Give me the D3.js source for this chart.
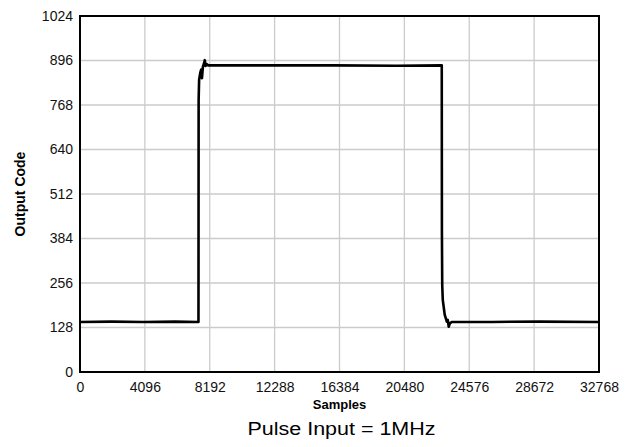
<!DOCTYPE html>
<html>
<head>
<meta charset="utf-8">
<script src="https://cdn.jsdelivr.net/npm/d3@7"></script>
<style>
    body { margin: 0; background: #fff; }
    text { font-family: "Liberation Sans", Arial, sans-serif; }
</style>
</head>
<body>
<div id="chart"></div>
<script>
// Trace: sample index and output code
var samples = [0, 2000, 4000, 6000, 7480, 7490, 7520, 7600, 7650, 7700, 7760, 7820, 7880, 7930, 7990, 8100,
    12000, 16000, 20000, 22840, 22850, 22870, 22905, 23030, 23160, 23220, 23280, 23350, 23470,
    26000, 29000, 32768];
var codes = [144, 145, 144, 145, 144, 780, 840, 862, 870, 845, 878, 886, 897, 880, 886, 882,
    882, 882, 881, 882, 400, 250, 207, 164, 145, 150, 130, 140, 144,
    144, 145, 144];

var xTicks = [0, 4096, 8192, 12288, 16384, 20480, 24576, 28672, 32768];
var yTicks = [0, 128, 256, 384, 512, 640, 768, 896, 1024];

var margin = { top: 16, right: 28, bottom: 75, left: 80 },
    width = 627 - margin.left - margin.right,
    height = 447 - margin.top - margin.bottom;

var x = d3.scaleLinear().domain([0, 32768]).range([0, width]);
var y = d3.scaleLinear().domain([0, 1024]).range([height, 0]);

var svg = d3.select("#chart").append("svg")
    .attr("width", 627)
    .attr("height", 447)
    .append("g")
    .attr("transform", "translate(" + margin.left + "," + margin.top + ")");

// grid
svg.append("g").selectAll("line").data(xTicks.slice(1, -1)).enter().append("line")
    .attr("x1", function (d) { return x(d); }).attr("x2", function (d) { return x(d); })
    .attr("y1", 0).attr("y2", height)
    .attr("stroke", "#cbcbcb").attr("stroke-width", 1.3);
svg.append("g").selectAll("line").data(yTicks.slice(1, -1)).enter().append("line")
    .attr("y1", function (d) { return y(d); }).attr("y2", function (d) { return y(d); })
    .attr("x1", 0).attr("x2", width)
    .attr("stroke", "#cbcbcb").attr("stroke-width", 1.3);

// axes, labels only
var xAxis = svg.append("g")
    .attr("transform", "translate(0," + height + ")")
    .call(d3.axisBottom(x).tickValues(xTicks).tickSize(0).tickPadding(10).tickFormat(d3.format("d")));
var yAxis = svg.append("g")
    .call(d3.axisLeft(y).tickValues(yTicks).tickSize(0).tickPadding(7).tickFormat(d3.format("d")));
[xAxis, yAxis].forEach(function (a) {
    a.select(".domain").remove();
    a.selectAll("text").attr("font-size", "14px").attr("fill", "#111")
        .style("font-family", "'Liberation Sans', Arial, sans-serif");
});

// trace
var pts = samples.map(function (s, i) { return [s, codes[i]]; });
svg.append("path")
    .datum(pts)
    .attr("fill", "none")
    .attr("stroke", "#000")
    .attr("stroke-width", 2.6)
    .attr("stroke-linejoin", "round")
    .attr("d", d3.line().x(function (d) { return x(d[0]); }).y(function (d) { return y(d[1]); }));

// frame
svg.append("rect")
    .attr("width", width).attr("height", height)
    .attr("fill", "none").attr("stroke", "#000").attr("stroke-width", 2);

svg.append("text")
    .attr("x", width / 2).attr("y", height + 37)
    .attr("text-anchor", "middle")
    .attr("font-size", "13px").attr("font-weight", "bold")
    .text("Samples");

svg.append("text")
    .attr("transform", "translate(" + (25 - margin.left) + "," + (height / 2) + ") rotate(-90)")
    .attr("text-anchor", "middle")
    .attr("font-size", "14px").attr("font-weight", "bold")
    .text("Output Code");

svg.append("text")
    .attr("x", width / 2 + 2).attr("y", height + 63)
    .attr("text-anchor", "middle")
    .attr("font-size", "18px")
    .attr("textLength", 188).attr("lengthAdjust", "spacingAndGlyphs")
    .text("Pulse Input = 1MHz");
</script>
</body>
</html>
